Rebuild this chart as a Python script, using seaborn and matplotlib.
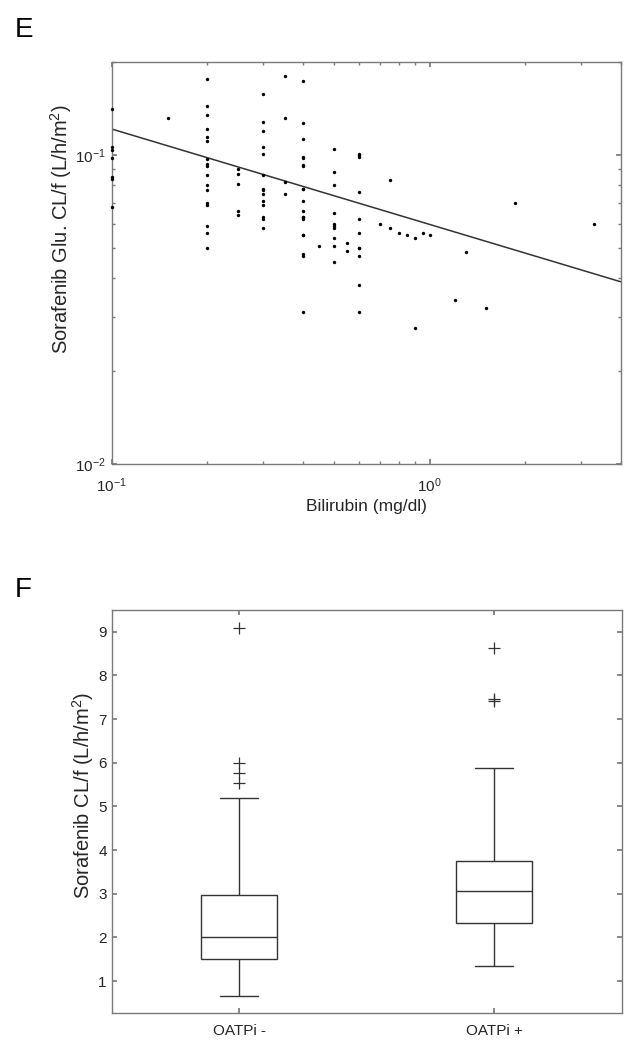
import pandas as pd
import matplotlib
matplotlib.use("Agg")
import matplotlib.pyplot as plt
import seaborn as sns
from matplotlib.ticker import LogLocator, NullFormatter, FixedLocator

# panel E: bilirubin (mg/dl) vs sorafenib glucuronide CL/f
bilirubin = [
    0.1, 0.1, 0.1, 0.1, 0.1, 0.1, 0.1,
    0.15,
    0.2, 0.2, 0.2, 0.2, 0.2, 0.2, 0.2, 0.2, 0.2, 0.2, 0.2, 0.2, 0.2, 0.2, 0.2, 0.2, 0.2,
    0.25, 0.25, 0.25, 0.25, 0.25,
    0.3, 0.3, 0.3, 0.3, 0.3, 0.3, 0.3, 0.3, 0.3, 0.3, 0.3, 0.3, 0.3, 0.3,
    0.35, 0.35, 0.35, 0.35,
    0.4, 0.4, 0.4, 0.4, 0.4, 0.4, 0.4, 0.4, 0.4, 0.4, 0.4, 0.4, 0.4, 0.4, 0.4, 0.4, 0.4, 0.4, 0.4,
    0.45,
    0.5, 0.5, 0.5, 0.5, 0.5, 0.5, 0.5, 0.5, 0.5, 0.5,
    0.55, 0.55,
    0.6, 0.6, 0.6, 0.6, 0.6, 0.6, 0.6, 0.6, 0.6, 0.6, 0.6,
    0.7, 0.75, 0.75, 0.8, 0.85, 0.9, 0.9, 0.95, 1.0,
    1.2, 1.3, 1.5, 1.85, 3.3,
]
glu_cl = [
    0.141, 0.106, 0.104, 0.098, 0.085, 0.084, 0.068,
    0.132,
    0.176, 0.144, 0.135, 0.122, 0.115, 0.111, 0.097, 0.094, 0.092, 0.086, 0.080, 0.077,
    0.070, 0.069, 0.059, 0.056, 0.050,
    0.090, 0.087, 0.081, 0.066, 0.064,
    0.158, 0.128, 0.120, 0.106, 0.101, 0.086, 0.078, 0.077, 0.075, 0.071, 0.069, 0.063,
    0.062, 0.058,
    0.181, 0.132, 0.082, 0.075,
    0.174, 0.127, 0.113, 0.099, 0.098, 0.093, 0.092, 0.078, 0.078, 0.071, 0.066, 0.063,
    0.063, 0.062, 0.055, 0.055, 0.048, 0.047, 0.031,
    0.051,
    0.105, 0.088, 0.080, 0.065, 0.060, 0.059, 0.058, 0.054, 0.051, 0.045,
    0.052, 0.049,
    0.101, 0.100, 0.099, 0.076, 0.062, 0.056, 0.050, 0.050, 0.047, 0.038, 0.031,
    0.060, 0.083, 0.058, 0.056, 0.055, 0.054, 0.0275, 0.056, 0.055,
    0.034, 0.0485, 0.032, 0.070, 0.060,
]
fit_bilirubin = [0.1, 4.0]
fit_glu_cl = [0.1216, 0.0389]

# panel F: sorafenib CL/f by OATP inhibitor use
groups = ["OATPi -", "OATPi +"]
cl_oatpi_neg = [0.66, 0.95, 1.15, 1.3, 1.42, 1.5, 1.6, 1.72, 1.83, 1.92, 2.0,
                2.2, 2.4, 2.6, 2.8, 2.98, 5.19, 5.54, 5.77, 5.99, 9.08]
cl_oatpi_pos = [1.34, 1.7, 1.95, 2.1, 2.22, 2.32, 2.5, 2.7, 2.85, 2.97, 3.07,
                3.2, 3.35, 3.5, 3.65, 3.755, 4.5, 5.87, 7.42, 7.45, 8.62]

scatter_df = pd.DataFrame({"bilirubin": bilirubin, "glu_cl": glu_cl})
fit_df = pd.DataFrame({"bilirubin": fit_bilirubin, "glu_cl": fit_glu_cl})
box_df = pd.DataFrame({
    "group": [groups[0]] * len(cl_oatpi_neg) + [groups[1]] * len(cl_oatpi_pos),
    "cl": cl_oatpi_neg + cl_oatpi_pos,
})

sns.set_theme(style="white")
axis_grey = "#7a7a7a"
text_col = "#262626"
plt.rcParams.update({
    "axes.edgecolor": axis_grey,
    "axes.linewidth": 1.0,
    "xtick.color": axis_grey,
    "ytick.color": axis_grey,
    "xtick.labelcolor": text_col,
    "ytick.labelcolor": text_col,
    "axes.labelcolor": text_col,
    "xtick.direction": "in",
    "ytick.direction": "in",
    "xtick.major.size": 3.5,
    "ytick.major.size": 3.5,
    "xtick.minor.size": 2.0,
    "ytick.minor.size": 2.0,
    "xtick.labelsize": 11,
    "ytick.labelsize": 11,
    "mathtext.fontset": "custom",
    "mathtext.rm": "Liberation Sans",
    "mathtext.it": "Liberation Sans:italic",
    "mathtext.bf": "Liberation Sans:bold",
    "mathtext.default": "regular",
})
plt.rcParams["font.family"] = ["Liberation Sans", "DejaVu Sans"]

W, H = 634, 1050
fig = plt.figure(figsize=(W / 100, H / 100), dpi=100)
ax1 = fig.add_axes([111.7 / W, 1 - 464 / H, 509.3 / W, 401.7 / H])
ax2 = fig.add_axes([111.7 / W, 1 - 1013.3 / H, 510 / W, 403.3 / H])

# --- E ---
sns.scatterplot(data=scatter_df, x="bilirubin", y="glu_cl", ax=ax1,
                color="black", s=6, linewidth=0, marker="o", clip_on=False,
                zorder=3)
sns.lineplot(data=fit_df, x="bilirubin", y="glu_cl", ax=ax1,
             color="#333333", linewidth=1.1)
ax1.set_xscale("log")
ax1.set_yscale("log")
ax1.set_xlim(0.1, 4.0)
ax1.set_ylim(0.01, 0.2)
ax1.xaxis.set_major_locator(LogLocator(base=10))
ax1.yaxis.set_major_locator(LogLocator(base=10))
ax1.xaxis.set_minor_locator(LogLocator(base=10, subs=range(2, 10)))
ax1.yaxis.set_minor_locator(LogLocator(base=10, subs=range(2, 10)))
ax1.xaxis.set_minor_formatter(NullFormatter())
ax1.yaxis.set_minor_formatter(NullFormatter())
ax1.tick_params(which="both", top=True, right=True, bottom=True, left=True,
                direction="in")
ax1.tick_params(axis="x", which="major", pad=9)
ax1.tick_params(axis="y", which="major", pad=4)
ax1.set_xlabel("Bilirubin (mg/dl)", fontsize=12.5, va="top")
ax1.xaxis.set_label_coords(0.5, -0.087)
ax1.set_ylabel("Sorafenib Glu. CL/f (L/h/m$^2$)", fontsize=14.5)
ax1.yaxis.set_label_coords(-0.074, 0.585)

# --- F ---
sns.boxplot(data=box_df, x="group", y="cl", order=groups, ax=ax2,
            width=0.3, color="white", linecolor="#333333", linewidth=1.0,
            whis=1.5,
            flierprops=dict(marker="+", markersize=8,
                            markeredgecolor="#333333", markeredgewidth=0.9))
ax2.set_xlim(-0.5, 1.5)
ax2.set_ylim(0.26, 9.5)
ax2.yaxis.set_major_locator(FixedLocator(range(1, 10)))
ax2.tick_params(which="both", top=True, right=True, bottom=True, left=True,
                direction="in")
ax2.tick_params(axis="x", pad=8)
ax2.set_xlabel("")
ax2.set_ylabel("Sorafenib CL/f (L/h/m$^2$)", fontsize=14.5)
ax2.yaxis.set_label_coords(-0.031, 0.541)

fig.text(14.5 / W, 1 - 37 / H, "E", fontsize=20, color="black", va="baseline")
fig.text(14.5 / W, 1 - 597 / H, "F", fontsize=20, color="black", va="baseline")

fig.savefig("out.png", dpi=100)
